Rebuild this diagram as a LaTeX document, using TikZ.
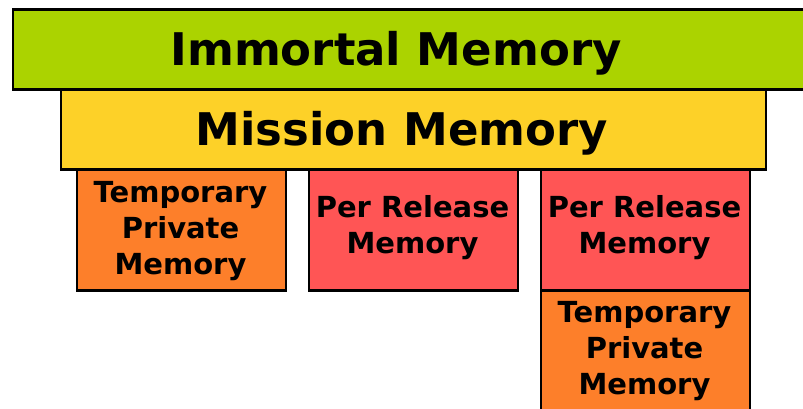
\documentclass[tikz,border=0pt]{standalone}
\usepackage{fontspec}
\setmainfont{DejaVu Sans}
\definecolor{cgreen}{HTML}{ABD300}
\definecolor{cyellow}{HTML}{FDD128}
\definecolor{corange}{HTML}{FD7F2A}
\definecolor{cred}{HTML}{FF5555}
\begin{document}
\begin{tikzpicture}[x=1pt,y=-1pt,
  box/.style={draw=black,line width=2.6pt,inner sep=0pt,anchor=north west},
  bigtext/.style={font=\fontsize{45}{50}\bfseries\selectfont},
  smalltext/.style={font=\fontsize{29}{36}\bfseries\selectfont,align=center}]
\useasboundingbox (0,0) rectangle (803,409);
\clip (0,0) rectangle (803,409);
\node[box,fill=cgreen,minimum width=800pt,minimum height=80pt] (imm) at (11.5,8) {};
\node[bigtext] (immt) at (396,53) {Immortal Memory};
\node[box,fill=cyellow,minimum width=705pt,minimum height=80pt] (mis) at (59.5,88) {};
\node[bigtext] (mist) at (402,133) {Mission Memory};
\node[box,fill=corange,minimum width=209pt,minimum height=121pt] (t1) at (75.5,168) {};
\node[box,fill=cred,minimum width=209pt,minimum height=121pt] (p1) at (307.5,168) {};
\node[box,fill=cred,minimum width=209pt,minimum height=121pt] (p2) at (539.5,168) {};
\node[box,fill=corange,minimum width=209pt,minimum height=125pt] (t2) at (539.5,289) {};
\node[smalltext] (t1t) at (180.5,231) {Temporary\\Private\\Memory};
\node[smalltext] (p1t) at (412.5,228) {Per Release\\Memory};
\node[smalltext] (p2t) at (644.5,228) {Per Release\\Memory};
\node[smalltext] (t2t) at (644.5,351) {Temporary\\Private\\Memory};
\end{tikzpicture}
\end{document}
